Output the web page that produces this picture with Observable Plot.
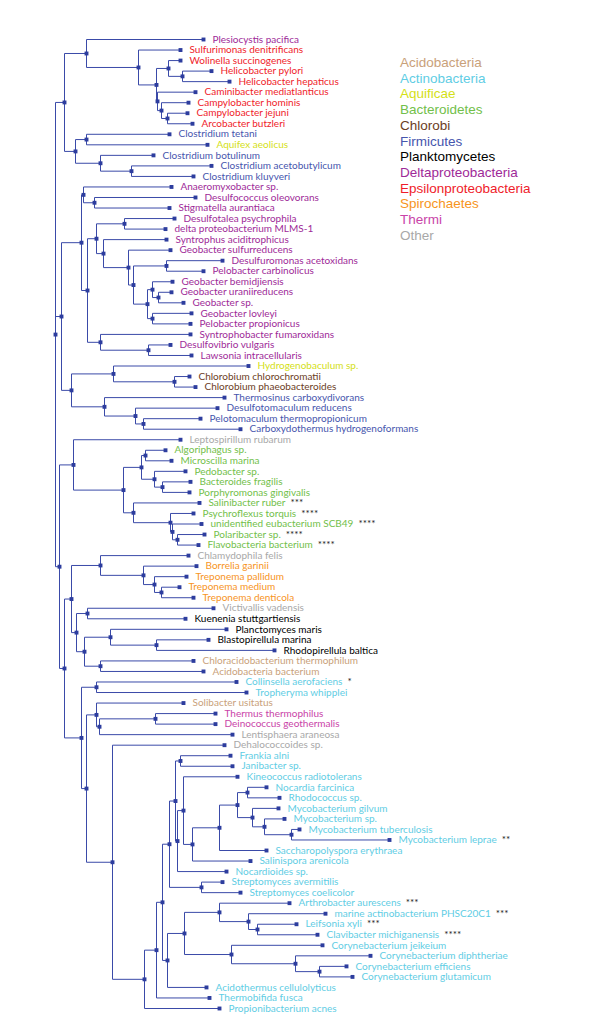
<!DOCTYPE html>
<html><head><meta charset="utf-8">
<script src="https://cdn.jsdelivr.net/npm/d3@7"></script>
<script src="https://cdn.jsdelivr.net/npm/@observablehq/plot@0.6"></script>
<style>
body{margin:0;background:#fff;}
#wrap{position:relative;width:600px;height:1036px;}
#legend{position:absolute;left:400px;top:55px;font-family:"Liberation Sans",Arial,sans-serif;font-size:13.5px;line-height:15.7px;white-space:nowrap;}
</style></head><body><div id="wrap"><div id="legend"></div></div>
<script>
// ---- Groups (legend) ----
const groupNames = ["Acidobacteria","Actinobacteria","Aquificae","Bacteroidetes","Chlorobi","Firmicutes","Planktomycetes","Deltaproteobacteria","Epsilonproteobacteria","Spirochaetes","Thermi","Other"];
const groupColors = ["#c9a17a","#5fcde4","#d4e017","#72c04a","#6b3d1e","#4655ad","#000000","#9e2a98","#ef1c2a","#f7941d","#c944a8","#a8a8a8"];

// ---- Leaves (top to bottom) ----
const leafNames = ["Plesiocystis pacifica","Sulfurimonas denitrificans","Wolinella succinogenes","Helicobacter pylori","Helicobacter hepaticus","Caminibacter mediatlanticus","Campylobacter hominis","Campylobacter jejuni","Arcobacter butzleri","Clostridium tetani","Aquifex aeolicus","Clostridium botulinum","Clostridium acetobutylicum","Clostridium kluyveri","Anaeromyxobacter sp.","Desulfococcus oleovorans","Stigmatella aurantiaca","Desulfotalea psychrophila","delta proteobacterium MLMS-1","Syntrophus aciditrophicus","Geobacter sulfurreducens","Desulfuromonas acetoxidans","Pelobacter carbinolicus","Geobacter bemidjiensis","Geobacter uraniireducens","Geobacter sp.","Geobacter lovleyi","Pelobacter propionicus","Syntrophobacter fumaroxidans","Desulfovibrio vulgaris","Lawsonia intracellularis","Hydrogenobaculum sp.","Chlorobium chlorochromatii","Chlorobium phaeobacteroides","Thermosinus carboxydivorans","Desulfotomaculum reducens","Pelotomaculum thermopropionicum","Carboxydothermus hydrogenoformans","Leptospirillum rubarum","Algoriphagus sp.","Microscilla marina","Pedobacter sp.","Bacteroides fragilis","Porphyromonas gingivalis","Salinibacter ruber","Psychroflexus torquis","unidentified eubacterium SCB49","Polaribacter sp.","Flavobacteria bacterium","Chlamydophila felis","Borrelia garinii","Treponema pallidum","Treponema medium","Treponema denticola","Victivallis vadensis","Kuenenia stuttgartiensis","Planctomyces maris","Blastopirellula marina","Rhodopirellula baltica","Chloracidobacterium thermophilum","Acidobacteria bacterium","Collinsella aerofaciens","Tropheryma whipplei","Solibacter usitatus","Thermus thermophilus","Deinococcus geothermalis","Lentisphaera araneosa","Dehalococcoides sp.","Frankia alni","Janibacter sp.","Kineococcus radiotolerans","Nocardia farcinica","Rhodococcus sp.","Mycobacterium gilvum","Mycobacterium sp.","Mycobacterium tuberculosis","Mycobacterium leprae","Saccharopolyspora erythraea","Salinispora arenicola","Nocardioides sp.","Streptomyces avermitilis","Streptomyces coelicolor","Arthrobacter aurescens","marine actinobacterium PHSC20C1","Leifsonia xyli","Clavibacter michiganensis","Corynebacterium jeikeium","Corynebacterium diphtheriae","Corynebacterium efficiens","Corynebacterium glutamicum","Acidothermus cellulolyticus","Thermobifida fusca","Propionibacterium acnes"];
const leafGroup = ["Deltaproteobacteria","Epsilonproteobacteria","Epsilonproteobacteria","Epsilonproteobacteria","Epsilonproteobacteria","Epsilonproteobacteria","Epsilonproteobacteria","Epsilonproteobacteria","Epsilonproteobacteria","Firmicutes","Aquificae","Firmicutes","Firmicutes","Firmicutes","Deltaproteobacteria","Deltaproteobacteria","Deltaproteobacteria","Deltaproteobacteria","Deltaproteobacteria","Deltaproteobacteria","Deltaproteobacteria","Deltaproteobacteria","Deltaproteobacteria","Deltaproteobacteria","Deltaproteobacteria","Deltaproteobacteria","Deltaproteobacteria","Deltaproteobacteria","Deltaproteobacteria","Deltaproteobacteria","Deltaproteobacteria","Aquificae","Chlorobi","Chlorobi","Firmicutes","Firmicutes","Firmicutes","Firmicutes","Other","Bacteroidetes","Bacteroidetes","Bacteroidetes","Bacteroidetes","Bacteroidetes","Bacteroidetes","Bacteroidetes","Bacteroidetes","Bacteroidetes","Bacteroidetes","Other","Spirochaetes","Spirochaetes","Spirochaetes","Spirochaetes","Other","Planktomycetes","Planktomycetes","Planktomycetes","Planktomycetes","Acidobacteria","Acidobacteria","Actinobacteria","Actinobacteria","Acidobacteria","Thermi","Thermi","Other","Other","Actinobacteria","Actinobacteria","Actinobacteria","Actinobacteria","Actinobacteria","Actinobacteria","Actinobacteria","Actinobacteria","Actinobacteria","Actinobacteria","Actinobacteria","Actinobacteria","Actinobacteria","Actinobacteria","Actinobacteria","Actinobacteria","Actinobacteria","Actinobacteria","Actinobacteria","Actinobacteria","Actinobacteria","Actinobacteria","Actinobacteria","Actinobacteria","Actinobacteria"];
const leafDepth = [148,125,125,156,174,140,133,132,137,114,152,98,156,138,116,140,114,119,110,111,115,167,148,117,116,128,136,135,135,115,136,193,134,140,169,162,145,185,125,110,116,130,135,134,144,138,146,149,143,133,141,131,124,138,158,130,171,153,219,138,148,181,191,128,160,160,177,169,175,177,182,211,224,223,229,244,334,211,195,171,167,185,234,270,241,262,267,315,291,297,151,154,164];
const leafParent = ["N2","E1","WH","HEL","HEL","C1","C2","C3","C3","CL1","CL1","CL2","CL3","CL3","D1","D1a","D1a","D3a","D3a","D5","D6","D7a","D7a","D8a","D8b","D8b","D8c","D8c","D4","D4a","D4a","F1","F1a","F1a","F2","F3","F4","F4","G","G2a","G2a","G2b","G2c","G2c","G3","G3a","G3b","G3c","G3c","S0","S1","S2","S3","S3","P0","P0","P2","P3","P3","P4","P4","K0","K0","K2","K4","K4","K3","AC0","AC6","AC6","AC8","AC12","AC12","AC13","AC14","AC15","AC15","AC10","AC9","AC7","AC16","AC16","AC19","AC20","AC21","AC21","AC22","AC23","AC24","AC24","AC17","AC2","AC1"];

// ---- Asterisk annotations ----
const starLeaves = ["Salinibacter ruber","Psychroflexus torquis","unidentified eubacterium SCB49","Polaribacter sp.","Flavobacteria bacterium","Collinsella aerofaciens","Mycobacterium leprae","Arthrobacter aurescens","marine actinobacterium PHSC20C1","Leifsonia xyli","Clavibacter michiganensis"];
const starMarks  = ["***","****","****","****","****","*","**","***","***","***","****"];

// ---- Internal nodes ----
const innerIds    = ["root","N1","N2","E1","E2","WH","HEL","C1","C2","C3","N3","CL1","CL2","CL3","A","D0","D1","D1a","D2","D3","D3a","D5","D6","D7","D7a","D8","D8a","D8b","D8c","D4","D4a","F0","F1","F1a","F2","F3","F4","B","G","G1","G2","G2a","G2b","G2c","G3","G3a","G3b","G3c","H","H1","S0","S1","S2","S3","H3","P0","P1","P2","P3","P4","H2","K0","K1","K2","K3","K4","AC0","AC1","AC2","AC3","AC4","AC5","AC6","AC7","AC8","AC9","AC10","AC11","AC12","AC13","AC14","AC15","AC16","AC17","AC18","AC19","AC20","AC21","AC22","AC23","AC24"];
const innerDepth  = [0,9,31,83,101,113,127,102,106,112,20,31,45,76,6,26,28,39,32,41,69,48,73,78,111,92,97,103,97,45,93,16,58,119,49,80,88,4,18,68,86,90,99,107,78,115,117,122,9,16,45,88,99,106,21,32,29,55,101,45,26,41,31,41,44,100,57,89,101,107,114,120,125,122,128,137,164,182,192,197,209,236,146,112,129,164,193,202,176,240,264];
const innerParent = [null,"root","N1","N2","E1","E2","WH","E2","C1","C2","N1","N3","N3","CL2","root","A","D0","D1","D0","D2","D3","D3","D5","D6","D7","D7","D8","D8a","D8","D2","D4","A","F0","F1","F0","F2","F3","root","B","G","G1","G2","G2","G2b","G1","G3","G3a","G3b","B","H","H1","S0","S1","S2","H1","H3","H3","P1","P2","P1","H","H2","H2","K1","K2","K3","K1","AC0","AC1","AC2","AC3","AC4","AC5","AC5","AC7","AC8","AC9","AC10","AC11","AC11","AC13","AC14","AC4","AC3","AC17","AC18","AC19","AC20","AC18","AC22","AC23"];

// ---- Build tree ----
const starOf = new Map(starLeaves.map((n, i) => [n, starMarks[i]]));
const nodes = new Map();
innerIds.forEach((id, i) => nodes.set(id, {id, depth: innerDepth[i], parent: innerParent[i], children: [], leaf: false}));
leafNames.forEach((name, i) => nodes.set("L" + i, {id: "L" + i, name, group: leafGroup[i], depth: leafDepth[i], parent: leafParent[i], children: [], leaf: true, y: i, stars: starOf.get(name) || ""}));
for (const n of nodes.values()) if (n.parent) nodes.get(n.parent).children.push(n);
function layoutY(n) {
  if (n.leaf) return n.y;
  const ys = n.children.map(layoutY);
  n.y = (d3.min(ys) + d3.max(ys)) / 2;
  return n.y;
}
layoutY(nodes.get("root"));
const all = Array.from(nodes.values());
const edges = all.filter(n => n.parent).map(n => {
  const p = nodes.get(n.parent);
  return {x1: p.depth, y1: p.y, x2: n.depth, y2: n.y};
});
const leaves = all.filter(n => n.leaf).map(n => ({...n, label: n.name + (n.stars ? "\u2002" + n.stars : "")}));

const lineColor = "#3a4aa8";
const chart = Plot.plot({
  width: 600,
  height: 1036,
  margin: 0,
  x: {domain: [0, 345], range: [55, 400], axis: null},
  y: {domain: [0, 92], range: [39, 1008], axis: null},
  color: {domain: groupNames, range: groupColors},
  marks: [
    Plot.link(edges, {x1: "x1", y1: "y1", x2: "x2", y2: "y2", curve: "step-before", stroke: lineColor, strokeWidth: 1}),
    Plot.dot(all, {x: "depth", y: "y", symbol: "square", r: 2.2, fill: "#2d3d9e", stroke: null}),
    Plot.text(leaves, {x: "depth", y: "y", text: "label", fill: "group", textAnchor: "start", dx: 9, fontSize: 10, fontFamily: "Lato, 'Open Sans', sans-serif"})
  ]
});
chart.style.position = "absolute";
chart.style.left = "0";
chart.style.top = "0";
document.getElementById("wrap").insertBefore(chart, document.getElementById("legend"));

// split asterisks into a black tspan
chart.querySelectorAll("text").forEach(t => {
  const s = t.textContent;
  const i = s.indexOf("\u2002");
  if (i >= 0) {
    t.textContent = s.slice(0, i);
    const ts = document.createElementNS("http://www.w3.org/2000/svg", "tspan");
    ts.textContent = s.slice(i);
    ts.setAttribute("fill", "#222");
    t.appendChild(ts);
  }
});

// legend
const leg = document.getElementById("legend");
groupNames.forEach((g, i) => {
  const d = document.createElement("div");
  d.textContent = g;
  d.style.color = groupColors[i];
  leg.appendChild(d);
});
</script></body></html>
